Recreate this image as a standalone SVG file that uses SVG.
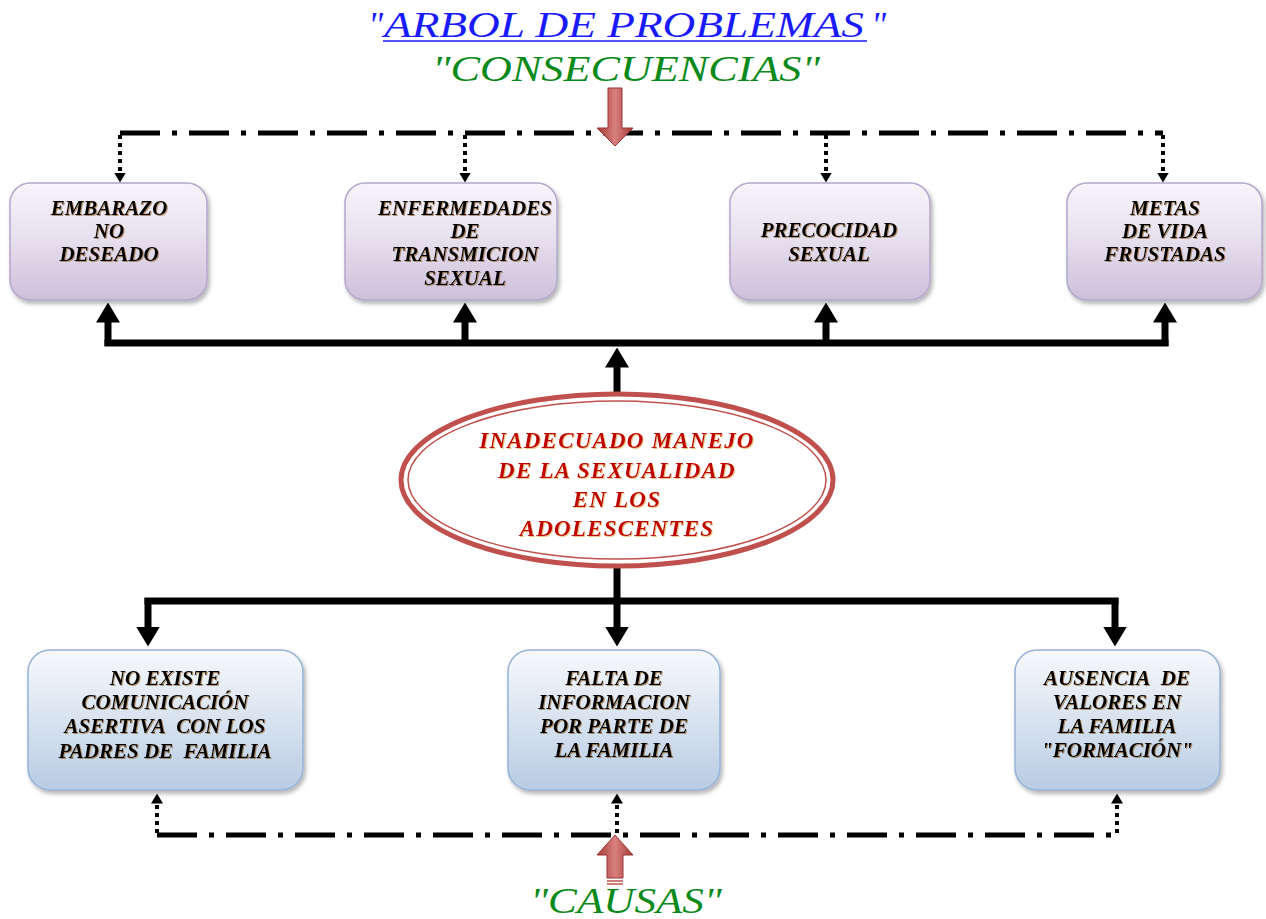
<svg xmlns="http://www.w3.org/2000/svg" width="1266" height="919" viewBox="0 0 1266 919">
<style>
.title{font-family:"Liberation Serif","DejaVu Serif",serif;font-style:italic;}
.bt{font-family:"Liberation Serif","Times New Roman",serif;font-style:italic;font-weight:bold;font-size:21px;fill:#000;text-anchor:middle;filter:url(#tsh);}
.et{font-family:"Liberation Serif","Times New Roman",serif;font-style:italic;font-weight:bold;font-size:23px;letter-spacing:1.2px;fill:#c00000;text-anchor:middle;filter:url(#tsh2);}
.cbox{fill:url(#gPurple);stroke:#b4a7cc;stroke-width:1.5;filter:url(#bsh);}
.kbox{fill:url(#gBlue);stroke:#95b3d7;stroke-width:1.5;filter:url(#bsh);}
.bold{stroke:#000;stroke-width:7;fill:none;}
.boldA{stroke:#000;stroke-width:7;fill:none;marker-end:url(#bigA);}
.dot{stroke:#000;stroke-width:4;stroke-dasharray:4 4;fill:none;marker-end:url(#smallA);}
.dd{stroke:#000;stroke-width:5;stroke-dasharray:40 12 5 12;fill:none;}
</style>
<defs>
<linearGradient id="gPurple" x1="0" y1="0" x2="0" y2="1">
<stop offset="0" stop-color="#f7f4fa"/><stop offset="0.45" stop-color="#e8e1ef"/><stop offset="1" stop-color="#ccc0da"/>
</linearGradient>
<linearGradient id="gBlue" x1="0" y1="0" x2="0" y2="1">
<stop offset="0" stop-color="#f7f9fc"/><stop offset="0.45" stop-color="#dbe5f1"/><stop offset="1" stop-color="#b8cce4"/>
</linearGradient>
<linearGradient id="gRed" x1="0" y1="0" x2="1" y2="0">
<stop offset="0" stop-color="#a33a37"/><stop offset="0.5" stop-color="#d9807d"/><stop offset="1" stop-color="#a33a37"/>
</linearGradient>
<filter id="bsh" x="-10%" y="-10%" width="125%" height="130%">
<feDropShadow dx="2" dy="3" stdDeviation="2" flood-color="#000" flood-opacity="0.3"/>
</filter>
<filter id="tsh" x="-5%" y="-20%" width="115%" height="150%">
<feDropShadow dx="1" dy="1" stdDeviation="0.5" flood-color="#8a5a20" flood-opacity="0.6"/>
</filter>
<filter id="tsh2" x="-5%" y="-20%" width="115%" height="150%">
<feDropShadow dx="1" dy="1" stdDeviation="0.5" flood-color="#e0a040" flood-opacity="0.6"/>
</filter>
<marker id="bigA" markerUnits="userSpaceOnUse" viewBox="0 0 20 24" refX="0.5" refY="12" markerWidth="20" markerHeight="24" orient="auto">
<path d="M0,0 L20,12 L0,24 z" fill="#000"/>
</marker>
<marker id="smallA" markerUnits="userSpaceOnUse" viewBox="0 0 10 12" refX="0.5" refY="6" markerWidth="10" markerHeight="12" orient="auto">
<path d="M0,0 L10,6 L0,12 z" fill="#000"/>
</marker>
</defs>
<rect width="1266" height="919" fill="#fff"/>

<g id="title">
<text class="title" x="368" y="37" font-size="36" fill="#1a1aff">"</text>
<text class="title" x="384" y="37" font-size="36" fill="#1a1aff" textLength="480" lengthAdjust="spacingAndGlyphs">ARBOL DE PROBLEMAS</text>
<line x1="383" y1="41" x2="867" y2="41" stroke="#1a1aff" stroke-width="1.6"/>
<text class="title" x="871" y="37" font-size="36" fill="#1a1aff">"</text>
</g>
<g id="consecuencias-label">
<text class="title" x="626" y="81" font-size="36" fill="#0a8a1a" text-anchor="middle" textLength="388" lengthAdjust="spacingAndGlyphs">"CONSECUENCIAS"</text>
</g>

<g id="connectors">
<path class="dd" d="M120,133 H1163"/>
<path class="dot" d="M120,135 V173"/>
<path class="dot" d="M465,135 V173"/>
<path class="dot" d="M826,135 V173"/>
<path class="dot" d="M1163,135 V173"/>
<path class="bold" d="M104.5,343 H1168.5"/>
<path class="boldA" d="M108,346 V322"/>
<path class="boldA" d="M465,346 V322"/>
<path class="boldA" d="M826,346 V322"/>
<path class="boldA" d="M1165,346 V322"/>
<path class="boldA" d="M617,394 V367"/>
<path class="bold" d="M617,568 V601"/>
<path class="bold" d="M144.5,601 H1118.5"/>
<path class="boldA" d="M148,598 V627"/>
<path class="boldA" d="M617,598 V627"/>
<path class="boldA" d="M1115,598 V627"/>
<path class="dd" d="M157,835 H1117"/>
<path class="dot" d="M157,833 V803"/>
<path class="dot" d="M617,833 V803"/>
<path class="dot" d="M1117,833 V803"/>
</g>

<g id="arrow-consecuencias">
<path d="M608,88 H622 V128 H633 L615,146 L597,128 H608 Z" fill="url(#gRed)" stroke="#9b3532" stroke-width="1"/>
</g>
<g id="arrow-causas">
<path d="M615,835 L633,855 H623 V878 H607 V855 H597 Z" fill="url(#gRed)" stroke="#9b3532" stroke-width="1"/>
<line x1="607" y1="881" x2="623" y2="881" stroke="#c0504d" stroke-width="1.5"/>
<line x1="607" y1="884" x2="623" y2="884" stroke="#c0504d" stroke-width="1.5"/>
</g>

<g id="c1">
<rect class="cbox" x="10" y="183" width="197" height="117" rx="20"/>
<text class="bt" x="109" y="215">EMBARAZO</text>
<text class="bt" x="109" y="238">NO</text>
<text class="bt" x="109" y="261">DESEADO</text>
</g>
<g id="c2">
<rect class="cbox" x="345" y="183" width="212" height="117" rx="20"/>
<text class="bt" x="465" y="215">ENFERMEDADES</text>
<text class="bt" x="465" y="238">DE</text>
<text class="bt" x="465" y="261">TRANSMICION</text>
<text class="bt" x="465" y="285">SEXUAL</text>
</g>
<g id="c3">
<rect class="cbox" x="730" y="183" width="200" height="117" rx="20"/>
<text class="bt" x="829" y="237">PRECOCIDAD</text>
<text class="bt" x="829" y="261">SEXUAL</text>
</g>
<g id="c4">
<rect class="cbox" x="1067" y="183" width="195" height="117" rx="20"/>
<text class="bt" x="1165" y="215">METAS</text>
<text class="bt" x="1165" y="238">DE VIDA</text>
<text class="bt" x="1165" y="261">FRUSTADAS</text>
</g>

<g id="problem">
<ellipse cx="617" cy="480" rx="216" ry="86" fill="#fff" stroke="#c0504d" stroke-width="5"/>
<ellipse cx="617" cy="480" rx="209" ry="79" fill="none" stroke="#c0504d" stroke-width="1.5"/>
<text class="et" x="617" y="448">INADECUADO MANEJO</text>
<text class="et" x="617" y="478">DE LA SEXUALIDAD</text>
<text class="et" x="617" y="507">EN LOS</text>
<text class="et" x="617" y="536">ADOLESCENTES</text>
</g>

<g id="k1">
<rect class="kbox" x="28" y="650" width="275" height="140" rx="22"/>
<text class="bt" x="165" y="685">NO EXISTE</text>
<text class="bt" x="165" y="709">COMUNICACIÓN</text>
<text class="bt" x="165" y="733">ASERTIVA&#160; CON LOS</text>
<text class="bt" x="165" y="758">PADRES DE&#160; FAMILIA</text>
</g>
<g id="k2">
<rect class="kbox" x="508" y="650" width="212" height="140" rx="22"/>
<text class="bt" x="614" y="685">FALTA DE</text>
<text class="bt" x="614" y="709">INFORMACION</text>
<text class="bt" x="614" y="733">POR PARTE DE</text>
<text class="bt" x="614" y="757">LA FAMILIA</text>
</g>
<g id="k3">
<rect class="kbox" x="1015" y="650" width="205" height="140" rx="22"/>
<text class="bt" x="1117" y="685">AUSENCIA&#160; DE</text>
<text class="bt" x="1117" y="709">VALORES EN</text>
<text class="bt" x="1117" y="733">LA FAMILIA</text>
<text class="bt" x="1117" y="757">"FORMACIÓN"</text>
</g>

<g id="causas-label">
<text class="title" x="626" y="913" font-size="36" fill="#0a8a1a" text-anchor="middle" textLength="192" lengthAdjust="spacingAndGlyphs">"CAUSAS"</text>
</g>
</svg>
